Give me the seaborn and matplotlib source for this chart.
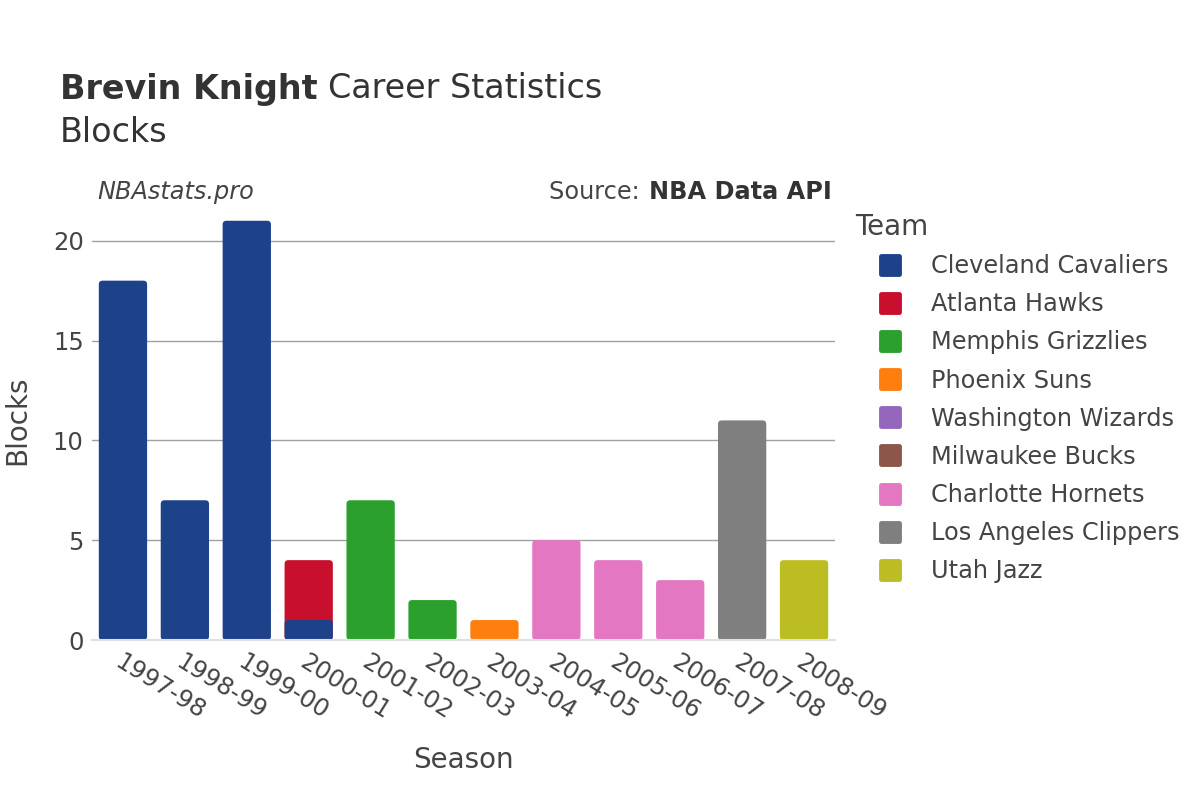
import matplotlib
matplotlib.use("Agg")
import matplotlib.pyplot as plt
from matplotlib.patches import FancyBboxPatch
from matplotlib.lines import Line2D
from matplotlib.markers import MarkerStyle
import seaborn as sns
import pandas as pd

seasons = ["1997-98", "1998-99", "1999-00", "2000-01", "2001-02", "2002-03",
           "2003-04", "2004-05", "2005-06", "2006-07", "2007-08", "2008-09"]
teams = ["Cleveland Cavaliers", "Atlanta Hawks", "Memphis Grizzlies", "Phoenix Suns",
         "Washington Wizards", "Milwaukee Bucks", "Charlotte Hornets",
         "Los Angeles Clippers", "Utah Jazz"]
colors = ["#1d428a", "#c8102e", "#2ca02c", "#ff7f0e", "#9467bd", "#8c564b",
          "#e377c2", "#7f7f7f", "#bcbd22"]
# blocks per team per season
blocks = {
    "Cleveland Cavaliers":  [18, 7, 21, 1, 0, 0, 0, 0, 0, 0, 0, 0],
    "Atlanta Hawks":        [0, 0, 0, 3, 0, 0, 0, 0, 0, 0, 0, 0],
    "Memphis Grizzlies":    [0, 0, 0, 0, 7, 2, 0, 0, 0, 0, 0, 0],
    "Phoenix Suns":         [0, 0, 0, 0, 0, 0, 1, 0, 0, 0, 0, 0],
    "Washington Wizards":   [0, 0, 0, 0, 0, 0, 0, 0, 0, 0, 0, 0],
    "Milwaukee Bucks":      [0, 0, 0, 0, 0, 0, 0, 0, 0, 0, 0, 0],
    "Charlotte Hornets":    [0, 0, 0, 0, 0, 0, 0, 5, 4, 3, 0, 0],
    "Los Angeles Clippers": [0, 0, 0, 0, 0, 0, 0, 0, 0, 0, 11, 0],
    "Utah Jazz":            [0, 0, 0, 0, 0, 0, 0, 0, 0, 0, 0, 4],
}

sns.set_theme(style="white")
plt.rcParams["font.family"] = ["DejaVu Sans"]

W, H = 1200, 800
fig = plt.figure(figsize=(12, 8), dpi=100)
ax = fig.add_axes([92 / W, 0.2, 743 / W, 0.549])

# cumulative heights, drawn from top layer down so lower layers overlay
cum = {}
running = [0] * len(seasons)
for t in teams:
    running = [r + v for r, v in zip(running, blocks[t])]
    cum[t] = list(running)

for t, c in reversed(list(zip(teams, colors))):
    df = pd.DataFrame({"season": seasons, "value": cum[t], "own": blocks[t]})
    df = df[df["own"] > 0]
    if df.empty:
        continue
    sns.barplot(data=df, x="season", y="value", order=seasons, color=c,
                saturation=1, width=0.78, errorbar=None, ax=ax, linewidth=0)

# rounded bars
aspect = (743 / 12) / (0.549 * 800 / 22)
patches = list(ax.patches)
for p in patches:
    x, y = p.get_x(), p.get_y()
    w, h = p.get_width(), p.get_height()
    fc = p.get_facecolor()
    zo = p.get_zorder()
    p.remove()
    rs = min(0.06, h / aspect / 2)
    fb = FancyBboxPatch((x, y), w, h, boxstyle=f"round,pad=0,rounding_size={rs}",
                        mutation_aspect=aspect, facecolor=fc, edgecolor="none", zorder=zo)
    ax.add_patch(fb)

ax.set_ylim(0, 22)
ax.set_xlim(-0.5, len(seasons) - 0.5)
ax.set_yticks([0, 5, 10, 15, 20])
ax.yaxis.grid(True, color="#a0a0a0", linewidth=1)
ax.set_axisbelow(True)
for s in ["top", "right", "left"]:
    ax.spines[s].set_visible(False)
ax.spines["bottom"].set_color("#e0e0e0")
ax.spines["bottom"].set_linewidth(1.5)
ax.tick_params(axis="both", length=0, labelsize=17.5, labelcolor="#444444")
ax.tick_params(axis="x", pad=7)
ax.tick_params(axis="y", pad=6)
ax.set_xticks(range(len(seasons)))
ax.set_xticklabels(seasons, rotation=-32, ha="left", rotation_mode="anchor")
ax.set_xlabel("Season", fontsize=20, color="#444444")
ax.set_ylabel("Blocks", fontsize=20, color="#444444")
ax.xaxis.label.set_va("center")
ax.yaxis.label.set_va("center")
ax.xaxis.set_label_coords(0.5, (640 - 760) / 439)
ax.yaxis.set_label_coords((17 - 92) / 743, (640 - 420) / 439)

fig.canvas.draw()
r = fig.canvas.get_renderer()
t1 = fig.text(60 / W, 1 - 89 / H, "Brevin Knight", fontsize=24, fontweight="bold",
              color="#333333", va="center")
bb = t1.get_window_extent(r)
fig.text((bb.x1 + 10) / W, 1 - 89 / H, "Career Statistics", fontsize=24,
         color="#333333", va="center")
fig.text(60 / W, 1 - 132 / H, "Blocks", fontsize=24, color="#333333", va="center")
fig.text(97 / W, 1 - 192 / H, "NBAstats.pro", fontsize=17.3, style="italic",
         color="#444444", va="center")
t2 = fig.text(832 / W, 1 - 192 / H, "NBA Data API", fontsize=17.3, fontweight="bold",
              color="#333333", va="center", ha="right")
bb2 = t2.get_window_extent(r)
fig.text((bb2.x0 - 2) / W, 1 - 192 / H, "Source: ", fontsize=17.3, color="#444444",
         va="center", ha="right")

fig.text(855 / W, 1 - 227 / H, "Team", fontsize=20, color="#444444", va="center")
mk = MarkerStyle("s", joinstyle="round")
handles = [Line2D([0], [0], marker=mk, linestyle="none", markersize=12.5,
                  markeredgewidth=3.5, markerfacecolor=c, markeredgecolor=c)
           for c in colors]
leg = fig.legend(handles, teams, loc="upper left", bbox_to_anchor=(878 / W, 1 - 254 / H),
                 frameon=False, fontsize=17.3, borderpad=0, borderaxespad=0,
                 labelspacing=0.59, handlelength=1.0, handletextpad=1.2)
for txt in leg.get_texts():
    txt.set_color("#444444")

fig.savefig("out.png", dpi=100)
